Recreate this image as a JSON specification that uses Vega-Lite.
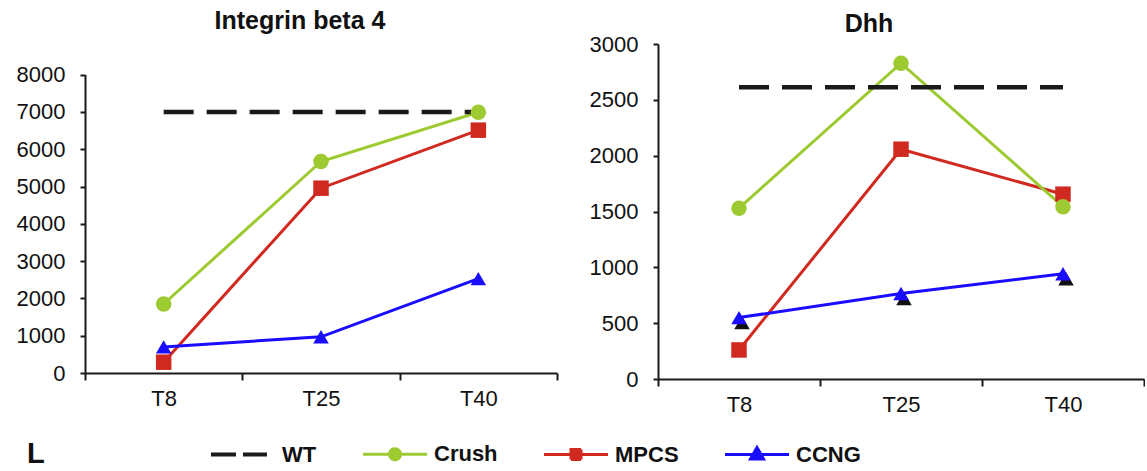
{
  "$schema": "https://vega.github.io/schema/vega-lite/v6.json",
  "padding": {"left": 16, "top": 9, "right": 0, "bottom": 0},
  "background": "white",
  "data": {
    "values": [
      {"gene": "Integrin beta 4", "time": "T8", "series": "WT", "value": 7000},
      {"gene": "Integrin beta 4", "time": "T25", "series": "WT", "value": 7000},
      {"gene": "Integrin beta 4", "time": "T40", "series": "WT", "value": 7000},
      {"gene": "Integrin beta 4", "time": "T8", "series": "MPCS", "value": 290},
      {"gene": "Integrin beta 4", "time": "T25", "series": "MPCS", "value": 4955},
      {"gene": "Integrin beta 4", "time": "T40", "series": "MPCS", "value": 6510},
      {"gene": "Integrin beta 4", "time": "T8", "series": "Crush", "value": 1850},
      {"gene": "Integrin beta 4", "time": "T25", "series": "Crush", "value": 5670},
      {"gene": "Integrin beta 4", "time": "T40", "series": "Crush", "value": 6990},
      {"gene": "Integrin beta 4", "time": "T8", "series": "CCNG", "value": 700},
      {"gene": "Integrin beta 4", "time": "T25", "series": "CCNG", "value": 970},
      {"gene": "Integrin beta 4", "time": "T40", "series": "CCNG", "value": 2530},
      {"gene": "Dhh", "time": "T8", "series": "WT", "value": 2612},
      {"gene": "Dhh", "time": "T25", "series": "WT", "value": 2612},
      {"gene": "Dhh", "time": "T40", "series": "WT", "value": 2612},
      {"gene": "Dhh", "time": "T8", "series": "MPCS", "value": 260},
      {"gene": "Dhh", "time": "T25", "series": "MPCS", "value": 2058},
      {"gene": "Dhh", "time": "T40", "series": "MPCS", "value": 1655},
      {"gene": "Dhh", "time": "T8", "series": "Crush", "value": 1530},
      {"gene": "Dhh", "time": "T25", "series": "Crush", "value": 2828},
      {"gene": "Dhh", "time": "T40", "series": "Crush", "value": 1543},
      {"gene": "Dhh", "time": "T8", "series": "CCNG", "value": 550},
      {"gene": "Dhh", "time": "T25", "series": "CCNG", "value": 766},
      {"gene": "Dhh", "time": "T40", "series": "CCNG", "value": 942}
    ]
  },
  "columns": 2,
  "align": "none",
  "bounds": "full",
  "spacing": 31,
  "resolve": {"scale": {"color": "shared", "shape": "shared", "x": "independent", "y": "independent"}},
  "concat": [
    {
      "title": {"text": "Integrin beta 4", "offset": 10, "frame": "group", "dx": -21},
      "width": 472,
      "height": 329,
      "transform": [{"filter": "datum.gene === 'Integrin beta 4'"}],
      "encoding": {
        "x": {"field": "time", "type": "ordinal", "sort": ["T8", "T25", "T40"],
              "scale": {"type": "band", "paddingInner": 0, "paddingOuter": 0},
              "axis": {"title": null}},
        "y": {"field": "value", "type": "quantitative",
              "scale": {"domain": [0, 8000], "nice": false, "zero": true, "range": [329, 30.6]},
              "axis": {"title": null, "values": [0, 1000, 2000, 3000, 4000, 5000, 6000, 7000, 8000], "format": "d"}},
        "color": {"field": "series", "type": "nominal",
                  "scale": {"domain": ["WT", "Crush", "MPCS", "CCNG"], "range": ["#1a1a1a", "#9dca30", "#d0291f", "#1a0dff"]},
                  "legend": {
                    "orient": "none", "legendX": -58, "legendY": 399, "direction": "horizontal",
                    "title": "L", "titleOrient": "left", "titleFontSize": 29, "titleFontWeight": "bold", "titleColor": "#111", "titleFont": "Liberation Sans", "titlePadding": 165,
                    "columnPadding": 40, "symbolSize": 400, "symbolStrokeWidth": 3, "labelOffset": 50,
                    "labelFont": "Liberation Sans", "labelFontSize": 22, "labelFontWeight": "bold", "labelColor": "#111",
                    "encode": {"symbols": {"update": {
                      "shape": {"signal": "datum.value === 'WT' ? 'M-1,0L4.6,0' : datum.value === 'Crush' ? 'M-1,0L5.4,0M2.75,0A0.55,0.55,0,1,1,1.65,0A0.55,0.55,0,1,1,2.75,0Z' : datum.value === 'MPCS' ? 'M-1,0L5.4,0M1.7,-0.5L2.7,-0.5L2.7,0.5L1.7,0.5Z' : 'M-1,0L5.4,0M2.2,-0.7L2.85,0.45L1.55,0.45Z'"},
                      "stroke": {"signal": "datum.value === 'WT' ? '#1a1a1a' : datum.value === 'Crush' ? '#9dca30' : datum.value === 'MPCS' ? '#d0291f' : '#1a0dff'"},
                      "fill": {"signal": "datum.value === 'WT' ? 'transparent' : datum.value === 'Crush' ? '#9dca30' : datum.value === 'MPCS' ? '#d0291f' : '#1a0dff'"},
                      "strokeDash": {"signal": "datum.value === 'WT' ? [25, 7] : [1, 0]"},
                      "strokeWidth": {"signal": "datum.value === 'WT' ? 4 : 3"},
                      "size": {"value": 400},
                      "opacity": {"value": 1},
                      "fillOpacity": {"value": 1},
                      "strokeOpacity": {"value": 1}
                    }}}
                  }}
      },
      "layer": [
        {"transform": [{"filter": "datum.series !== 'WT'"}], "mark": {"type": "line", "strokeWidth": 3}},
        {"transform": [{"filter": "datum.series === 'WT'"}], "mark": {"type": "line", "strokeWidth": 4.5, "strokeDash": [30, 13]}},
        {"transform": [{"filter": "datum.series !== 'WT'"}],
         "mark": {"type": "point", "filled": true, "opacity": 1, "size": 240},
         "encoding": {"shape": {"field": "series", "type": "nominal", "scale": {"domain": ["Crush", "MPCS", "CCNG"], "range": ["circle", "square", "triangle-up"]}, "legend": null}}}
      ]
    },
    {
      "title": {"text": "Dhh", "offset": -4, "frame": "group", "dx": -32},
      "width": 486,
      "height": 335,
      "transform": [{"filter": "datum.gene === 'Dhh'"}],
      "encoding": {
        "x": {"field": "time", "type": "ordinal", "sort": ["T8", "T25", "T40"],
              "scale": {"type": "band", "paddingInner": 0, "paddingOuter": 0},
              "axis": {"title": null}},
        "y": {"field": "value", "type": "quantitative",
              "scale": {"domain": [0, 3000], "nice": false, "zero": true},
              "axis": {"title": null, "values": [0, 500, 1000, 1500, 2000, 2500, 3000], "format": "d"}},
        "color": {"field": "series", "type": "nominal",
                  "scale": {"domain": ["WT", "Crush", "MPCS", "CCNG"], "range": ["#1a1a1a", "#9dca30", "#d0291f", "#1a0dff"]},
                  "legend": {
                    "orient": "none", "legendX": -58, "legendY": 399, "direction": "horizontal",
                    "title": "L", "titleOrient": "left", "titleFontSize": 29, "titleFontWeight": "bold", "titleColor": "#111", "titleFont": "Liberation Sans", "titlePadding": 165,
                    "columnPadding": 40, "symbolSize": 400, "symbolStrokeWidth": 3, "labelOffset": 50,
                    "labelFont": "Liberation Sans", "labelFontSize": 22, "labelFontWeight": "bold", "labelColor": "#111",
                    "encode": {"symbols": {"update": {
                      "shape": {"signal": "datum.value === 'WT' ? 'M-1,0L4.6,0' : datum.value === 'Crush' ? 'M-1,0L5.4,0M2.75,0A0.55,0.55,0,1,1,1.65,0A0.55,0.55,0,1,1,2.75,0Z' : datum.value === 'MPCS' ? 'M-1,0L5.4,0M1.7,-0.5L2.7,-0.5L2.7,0.5L1.7,0.5Z' : 'M-1,0L5.4,0M2.2,-0.7L2.85,0.45L1.55,0.45Z'"},
                      "stroke": {"signal": "datum.value === 'WT' ? '#1a1a1a' : datum.value === 'Crush' ? '#9dca30' : datum.value === 'MPCS' ? '#d0291f' : '#1a0dff'"},
                      "fill": {"signal": "datum.value === 'WT' ? 'transparent' : datum.value === 'Crush' ? '#9dca30' : datum.value === 'MPCS' ? '#d0291f' : '#1a0dff'"},
                      "strokeDash": {"signal": "datum.value === 'WT' ? [25, 7] : [1, 0]"},
                      "strokeWidth": {"signal": "datum.value === 'WT' ? 4 : 3"},
                      "size": {"value": 400},
                      "opacity": {"value": 1},
                      "fillOpacity": {"value": 1},
                      "strokeOpacity": {"value": 1}
                    }}}
                  }}
      },
      "layer": [
        {"transform": [{"filter": "datum.series !== 'WT'"}], "mark": {"type": "line", "strokeWidth": 3}},
        {"transform": [{"filter": "datum.series === 'WT'"}], "mark": {"type": "line", "strokeWidth": 4.5, "strokeDash": [30, 13]}},
        {"transform": [{"filter": "datum.series === 'CCNG'"}],
         "mark": {"type": "point", "shape": "triangle-up", "filled": true, "opacity": 1, "size": 240, "xOffset": 3, "yOffset": 5},
         "encoding": {"color": {"value": "#111111"}}},
        {"transform": [{"filter": "datum.series !== 'WT'"}],
         "mark": {"type": "point", "filled": true, "opacity": 1, "size": 240},
         "encoding": {"shape": {"field": "series", "type": "nominal", "scale": {"domain": ["Crush", "MPCS", "CCNG"], "range": ["circle", "square", "triangle-up"]}, "legend": null}}}
      ]
    }
  ],
  "config": {
    "view": {"stroke": null},
    "font": "Liberation Sans",
    "axis": {"domainColor": "#1a1a1a", "domainWidth": 2, "tickColor": "#1a1a1a", "tickWidth": 2,
             "labelFont": "Liberation Sans", "labelFontSize": 22, "labelColor": "#111111", "grid": false},
    "axisX": {"tickBand": "extent", "tickSize": 7, "labelPadding": 8, "labelAngle": 0},
    "axisY": {"tickSize": 5, "labelPadding": 15},
    "title": {"font": "Liberation Sans", "fontSize": 25, "fontWeight": "bold", "color": "#111111"}
  }
}
